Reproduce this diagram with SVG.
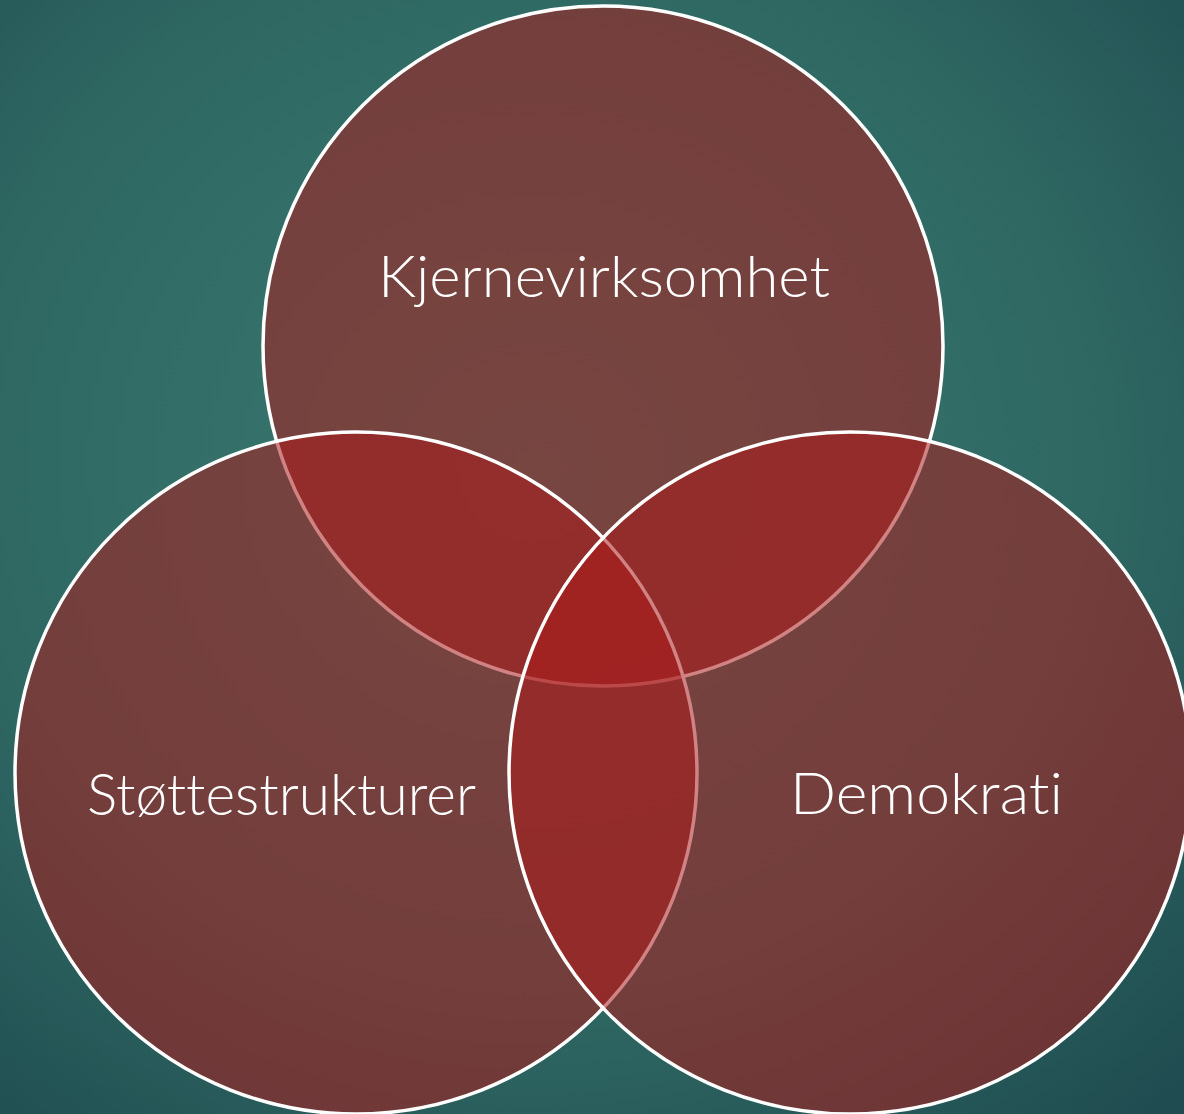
<svg xmlns="http://www.w3.org/2000/svg" width="1184" height="1114" viewBox="0 0 1184 1114">
  <defs>
    <radialGradient id="bg" cx="45%" cy="42%" r="78%">
      <stop offset="0" stop-color="#3a7a70"/>
      <stop offset="0.6" stop-color="#2f6863"/>
      <stop offset="1" stop-color="#1f4c50"/>
    </radialGradient>
    <style>
      .c { fill: #ac1c1c; fill-opacity: 0.55; stroke: #ffffff; stroke-width: 3.5; }
      .t { font-family: Lato, "Liberation Sans", "DejaVu Sans", sans-serif; font-weight: 300; font-size: 58px; fill: #ffffff; font-variant-ligatures: none; font-feature-settings: "liga" 0, "clig" 0, "dlig" 0; }
    </style>
  </defs>
  <rect x="0" y="0" width="1184" height="1114" fill="url(#bg)"/>
  <g id="node-kjernevirksomhet">
    <circle class="c" cx="603" cy="346" r="340"/>
  </g>
  <g id="node-stottestrukturer">
    <circle class="c" cx="356" cy="773" r="341"/>
  </g>
  <g id="node-demokrati">
    <circle class="c" cx="850" cy="773" r="341"/>
  </g>
  <g id="labels">
    <text class="t" x="378" y="297" textLength="452" lengthAdjust="spacingAndGlyphs">Kjernevirksomhet</text>
    <text class="t" x="87" y="815" textLength="389" lengthAdjust="spacingAndGlyphs">Støttestrukturer</text>
    <text class="t" x="790" y="814" textLength="273" lengthAdjust="spacingAndGlyphs">Demokrati</text>
  </g>
  <g id="connectors"/>
</svg>
